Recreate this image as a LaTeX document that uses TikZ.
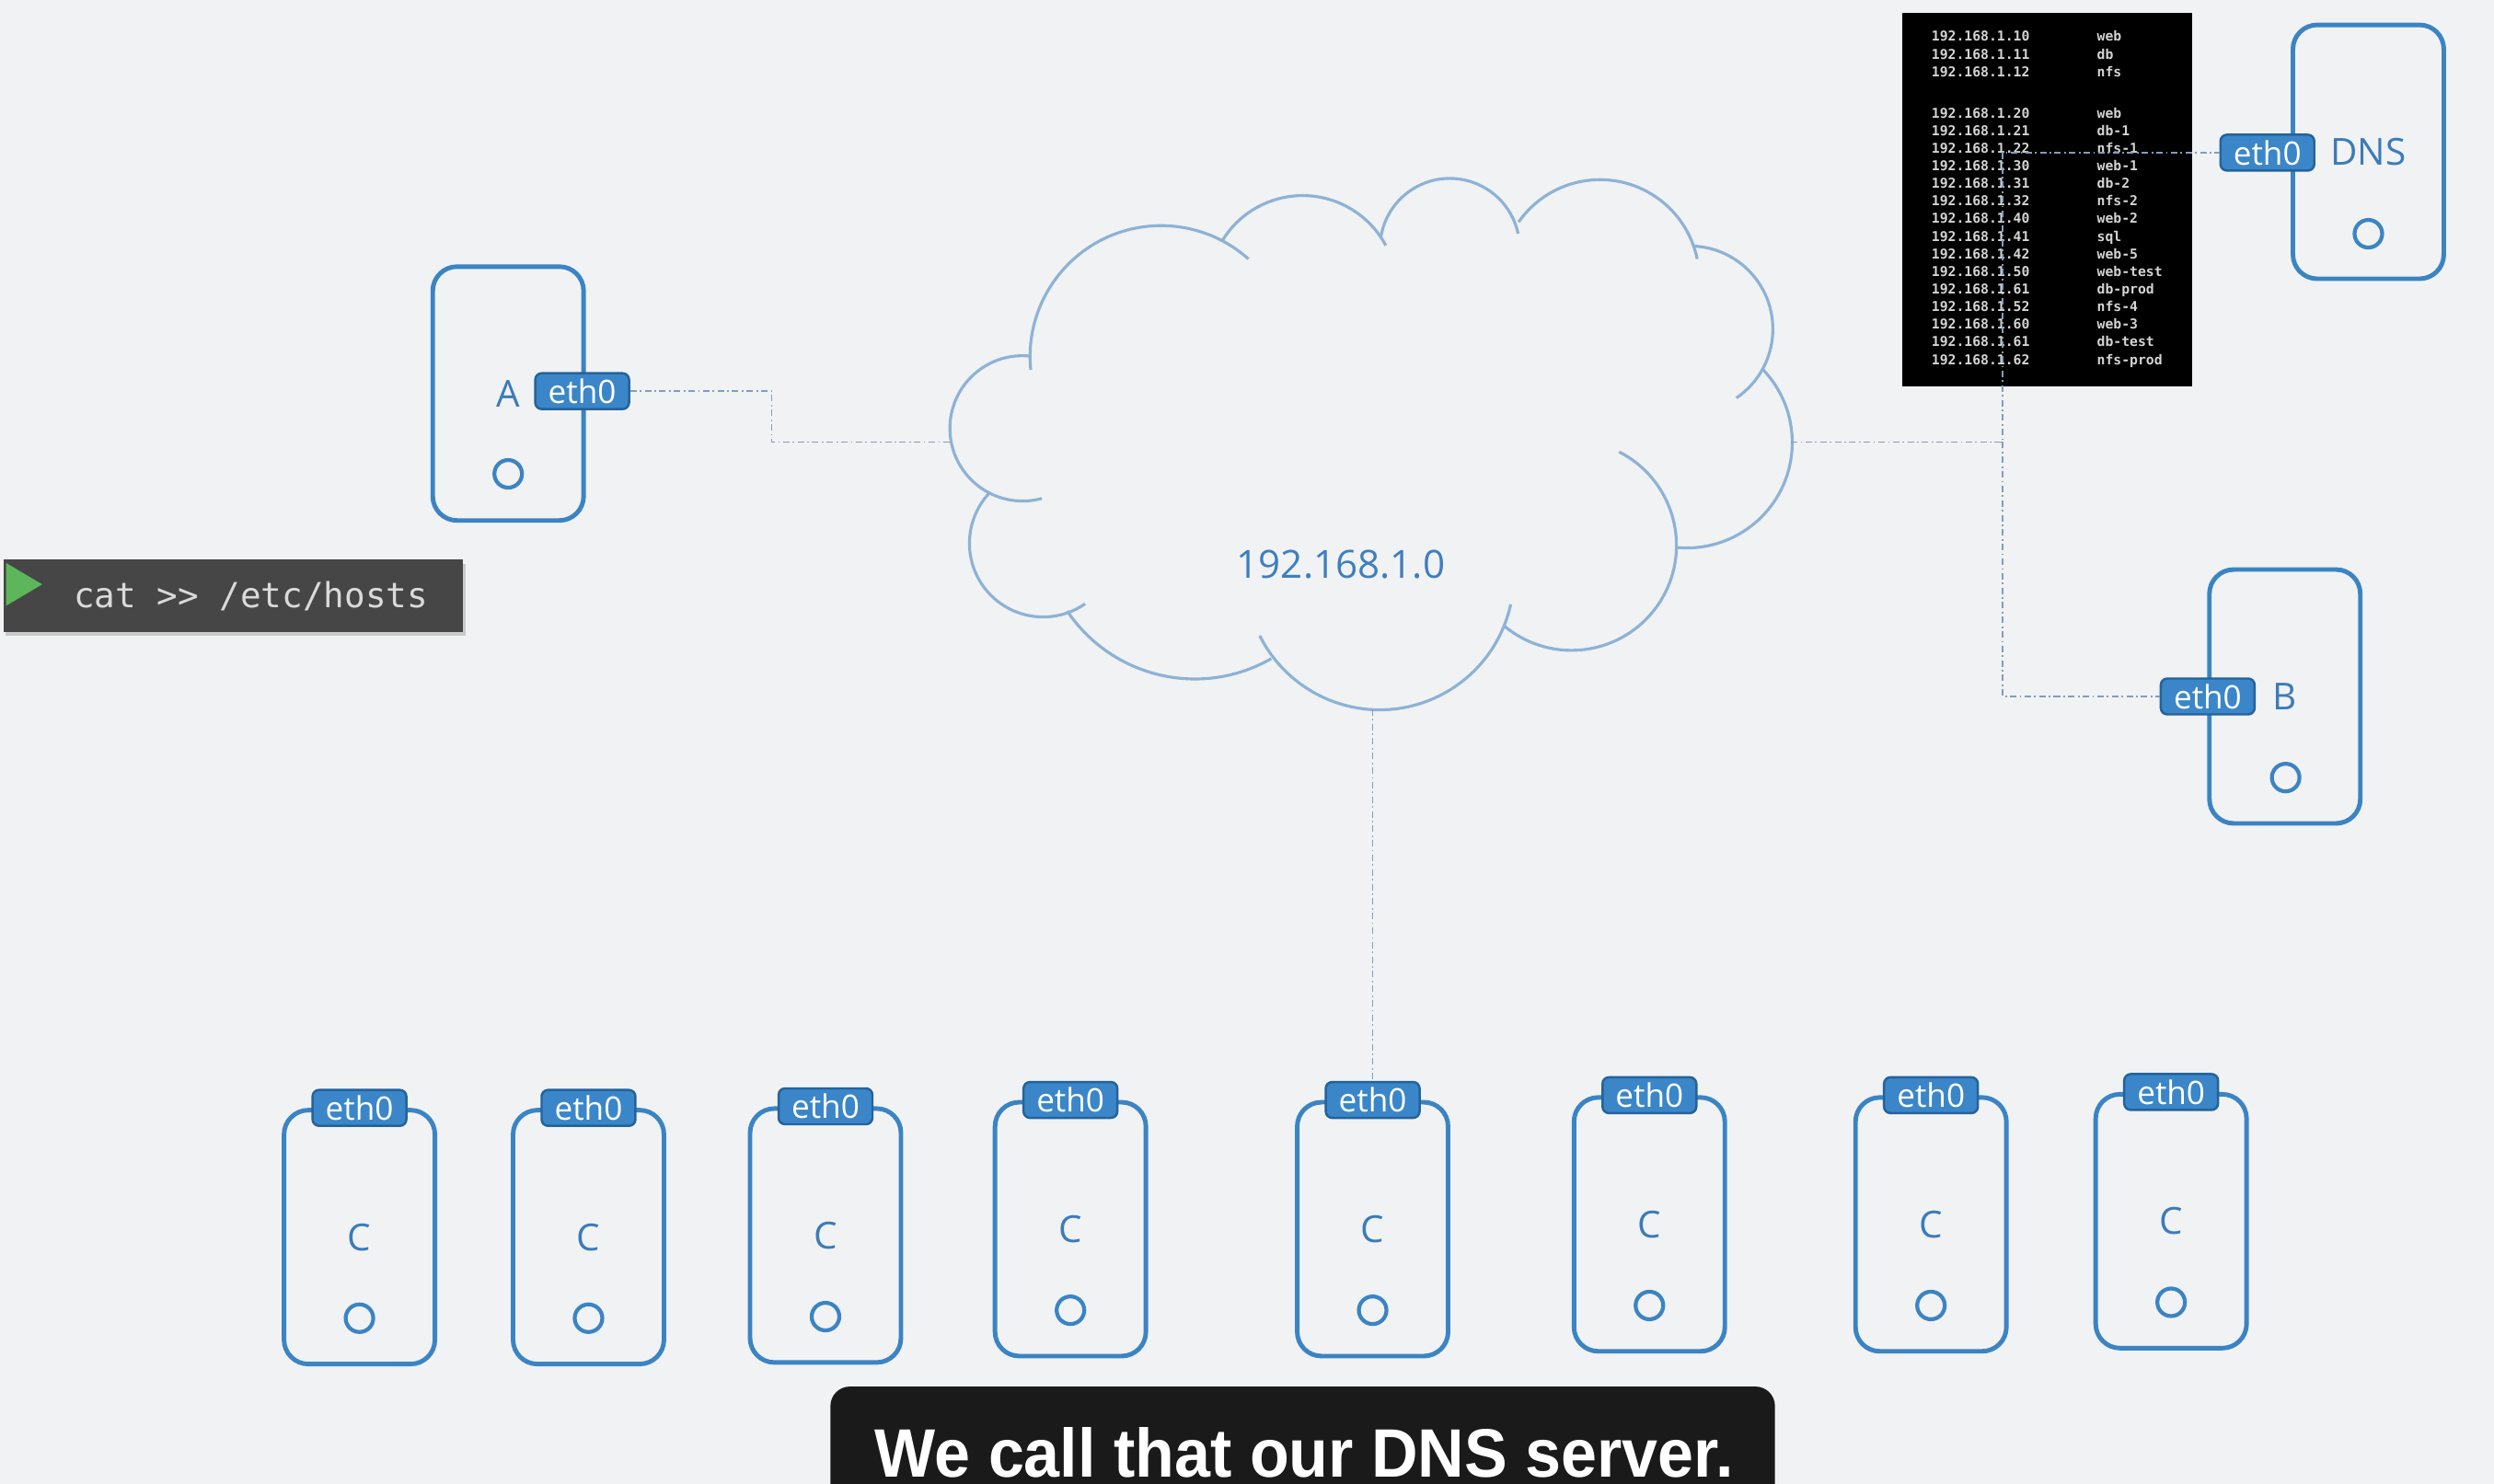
\documentclass[tikz,border=0pt]{standalone}
\usepackage{fontspec}
\setmainfont{Open Sans}
\newfontfamily\termfont{DejaVu Sans Mono}
\newfontfamily\capfont[FakeStretch=0.94]{Liberation Sans}
\usetikzlibrary{shadows}

\definecolor{bgcol}{HTML}{F1F2F3}
\definecolor{hostblue}{HTML}{3B84C4}
\definecolor{hosttext}{HTML}{3B7BBA}
\definecolor{ethfill}{HTML}{3B86C8}
\definecolor{ethdraw}{HTML}{23639C}
\definecolor{cloudcol}{HTML}{8DB2D6}
\definecolor{nettext}{HTML}{3E7EC0}
\definecolor{linkcol}{HTML}{819DC2}
\definecolor{rowgrey}{HTML}{D4D4D4}
\definecolor{termgrey}{HTML}{464646}
\definecolor{termtext}{HTML}{DADADA}
\definecolor{termgreen}{HTML}{5DB65A}
\definecolor{capbg}{HTML}{1A1A1A}

\tikzset{
  host/.style={draw=hostblue, line width=1.4pt, rounded corners=7.5pt,
    minimum width=1.64cm, minimum height=2.76cm, inner sep=0pt,
    text=hosttext, font=\fontsize{11.5}{12}\selectfont},
  port/.style={circle, draw=hostblue, line width=1.2pt, minimum size=0.30cm, inner sep=0pt},
  eth/.style={draw=ethdraw, fill=ethfill, line width=0.7pt, rounded corners=2pt,
    minimum width=1.02cm, minimum height=0.39cm, inner sep=0pt,
    text=white, font=\fontsize{10}{10}\selectfont},
  link/.style={draw=linkcol, line width=0.5pt, dash pattern=on 2pt off 1pt on 0.5pt off 1pt},
  puff/.style={draw=cloudcol, line width=0.9pt},
  hostrow/.style={text=rowgrey, inner sep=0pt, anchor=base west,
    font=\termfont\bfseries\fontsize{4.2}{5}\selectfont},
}

\begin{document}
\begin{tikzpicture}[x=0.017283cm, y=-0.017283cm]
  \useasboundingbox (0,0) rectangle (1568,933);
  \clip (0,0) rectangle (1568,933);
  \fill[bgcol] (0,0) rectangle (1568,933);

  % network cloud
  \begin{scope}[y=0.017283cm]
    \draw[puff] (730,-224.3) ++(185.8:82.4) arc[start angle=185.8, end angle=48.2, radius=82.4];
    \draw[puff] (819,-182.2) ++(148.7:59.2) arc[start angle=148.7, end angle=28, radius=59.2];
    \draw[puff] (911.5,-156.1) ++(171:43.9) arc[start angle=171, end angle=12, radius=43.9];
    \draw[puff] (1005.9,-175.4) ++(145:62.4) arc[start angle=145, end angle=11.6, radius=62.4];
    \draw[puff] (1062.3,-207) ++(87.5:52.3) arc[start angle=87.5, end angle=-55.8, radius=52.3];
    \draw[puff] (1060.5,-278.3) ++(44:66.3) arc[start angle=44, end angle=-95, radius=66.3];
    \draw[puff] (988,-343) ++(63:66) arc[start angle=63, end angle=-129.9, radius=66];
    \draw[puff] (867.4,-362.1) ++(-12.3:84.3) arc[start angle=-12.3, end angle=-153.4, radius=84.3];
    \draw[puff] (751.2,-330.3) ++(-60.2:96.7) arc[start angle=-60.2, end angle=-146.1, radius=96.7];
    \draw[puff] (655.8,-341.7) ++(137:46.3) arc[start angle=137, end angle=304.7, radius=46.3];
    \draw[puff] (642.9,-269.4) ++(84:45.7) arc[start angle=84, end angle=285.3, radius=45.7];
  \end{scope}
  \coordinate (netW) at (598,278);
  \coordinate (netE) at (1126,278);
  \coordinate (netS) at (863,446);
  \coordinate (hub) at (1259,278);
  \node[text=nettext, font=\fontsize{12}{12}\selectfont] (netlabel) at (843,355) {192.168.1.0};

  % hosts file
  \node[fill=black, minimum width=3.146cm, minimum height=4.062cm, inner sep=0pt] (hosts) at (1287,125.5) {};
  \foreach \ip/\nm/\ry [count=\i] in {10/web/23.1, 11/db/34.4, 12/nfs/45.7,
      20/web/71.2, 21/db-1/82.3, 22/nfs-1/93.4, 30/web-1/104.4, 31/db-2/115.5,
      32/nfs-2/126.6, 40/web-2/137.7, 41/sql/148.8, 42/web-5/159.8, 50/web-test/170.9,
      61/db-prod/182.0, 52/nfs-4/193.1, 60/web-3/204.2, 61/db-test/215.2, 62/nfs-prod/226.3} {
    \node[hostrow] (ip\i) at (1214,\ry+2.9) {192.168.1.\ip};
    \node[hostrow] (nm\i) at (1318,\ry+2.9) {\nm};
  }

  % machines
  \node[host] (A) at (319.5,247.5) {A};
  \node[port] (portA) at (319.5,298) {};
  \node[host] (DNS) at (1489,95.5) {DNS};
  \node[port] (portDNS) at (1489,147) {};
  \node[host] (B) at (1436.5,438) {B};
  \node[port] (portB) at (1437,489) {};
  \foreach \cx/\cy [count=\i] in {226/778, 370/778, 519/777, 673/773, 863/773, 1037/770, 1214/770, 1365/768} {
    \node[host] (C\i) at (\cx,\cy) {C};
    \node[port] (portC\i) at (\cx,\cy+51) {};
  }

  \node[eth] (ethA) at (366,246) {eth0};
  \node[eth] (ethDNS) at (1425.5,96) {eth0};
  \node[eth] (ethB) at (1388,438) {eth0};
  \foreach \i in {1,...,8} {
    \node[eth] (ethC\i) at (C\i.north) {eth0};
  }

  % links
  \draw[link] (ethA.east) -- ++(89,0) |- (netW);
  \draw[link] (netE) -- (hub) |- (ethDNS.west);
  \draw[link] (hub) |- (ethB.west);
  \draw[link] (netS) -- (ethC5.north);

  % terminal
  \node[fill=termgrey, minimum width=4.995cm, minimum height=0.785cm, inner sep=0pt,
    drop shadow={opacity=0.35, shadow xshift=0.8pt, shadow yshift=-1.2pt}] (term) at (146.5,374.7) {};
  \fill[termgreen] (3.8,354) -- (26.5,367.5) -- (3.8,381) -- cycle;
  \node[anchor=base west, inner sep=0pt, text=termtext, font=\termfont\fontsize{10.7}{12}\selectfont] (cmd) at (46,382.3) {cat >> /etc/hosts};

  % caption
  \node[fill=capbg, rounded corners=6pt, minimum width=10.266cm, minimum height=1.262cm] (capbox) at (819,908.5) {};
  \node[anchor=base, inner sep=0pt, text=white, font=\capfont\bfseries\fontsize{21.2}{24}\selectfont] (captext) at (820,929) {We call that our DNS server.};
\end{tikzpicture}
\end{document}
